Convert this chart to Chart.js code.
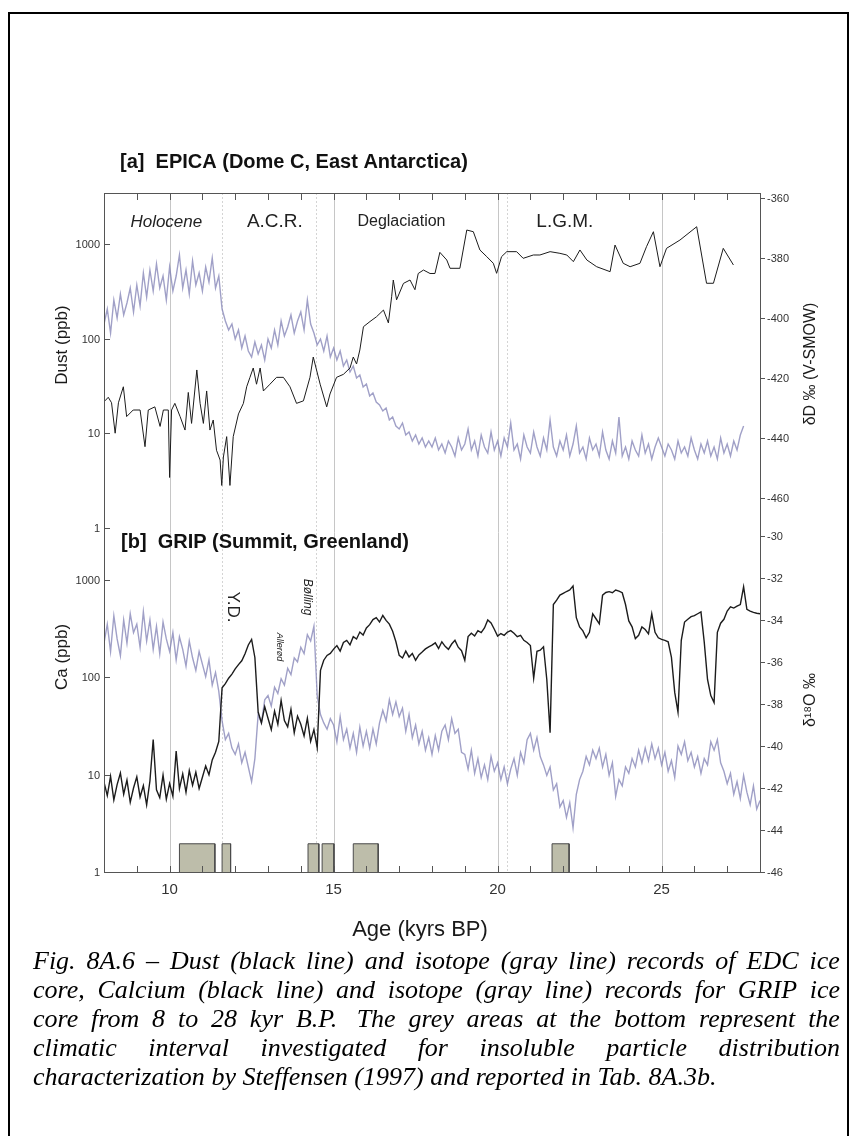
<!DOCTYPE html>
<html>
<head>
<meta charset="utf-8">
<script src="https://cdn.jsdelivr.net/npm/chart.js@4.4.0/dist/chart.umd.min.js"></script>
<style>
  html, body { margin: 0; padding: 0; background: #fff; }
  #page { position: relative; width: 852px; height: 1136px; overflow: hidden; }
  #frame { position: absolute; left: 8px; top: 12px; width: 841px; height: 1150px; border: 2px solid #000; box-sizing: border-box; }
  #chart { position: absolute; left: 0; top: 0; }
  .cap { position: absolute; left: 33px; width: 807px; display: flex; justify-content: space-between;
         white-space: nowrap; font: italic 26px "Liberation Serif", "Times New Roman", serif; color: #000; line-height: 29px; }
  .cap.last { justify-content: flex-start; }
  .cap.last span { margin-right: 0.25em; }
</style>
</head>
<body>
<div id="page">
  <div id="frame"></div>
  <canvas id="chart" width="852" height="1136"></canvas>
  <div id="caption"></div>
</div>
<script>
// --- DATA ---
// regular age grid used by the GRIP records and the EDC isotope record (kyr BP)
const ageGrid = [
  8.0, 8.1, 8.2, 8.3, 8.4, 8.5, 8.6, 8.7, 8.8, 8.9,
  9.0, 9.1, 9.2, 9.3, 9.4, 9.5, 9.6, 9.7, 9.8, 9.9,
  10.0, 10.1, 10.2, 10.3, 10.4, 10.5, 10.6, 10.7, 10.8, 10.9,
  11.0, 11.1, 11.2, 11.3, 11.4, 11.5, 11.6, 11.7, 11.8, 11.9,
  12.0, 12.1, 12.2, 12.3, 12.4, 12.5, 12.6, 12.7, 12.8, 12.9,
  13.0, 13.1, 13.2, 13.3, 13.4, 13.5, 13.6, 13.7, 13.8, 13.9,
  14.0, 14.1, 14.2, 14.3, 14.4, 14.5, 14.6, 14.7, 14.8, 14.9,
  15.0, 15.1, 15.2, 15.3, 15.4, 15.5, 15.6, 15.7, 15.8, 15.9,
  16.0, 16.1, 16.2, 16.3, 16.4, 16.5, 16.6, 16.7, 16.8, 16.9,
  17.0, 17.1, 17.2, 17.3, 17.4, 17.5, 17.6, 17.7, 17.8, 17.9,
  18.0, 18.1, 18.2, 18.3, 18.4, 18.5, 18.6, 18.7, 18.8, 18.9,
  19.0, 19.1, 19.2, 19.3, 19.4, 19.5, 19.6, 19.7, 19.8, 19.9,
  20.0, 20.1, 20.2, 20.3, 20.4, 20.5, 20.6, 20.7, 20.8, 20.9,
  21.0, 21.1, 21.2, 21.3, 21.4, 21.5, 21.6, 21.7, 21.8, 21.9,
  22.0, 22.1, 22.2, 22.3, 22.4, 22.5, 22.6, 22.7, 22.8, 22.9,
  23.0, 23.1, 23.2, 23.3, 23.4, 23.5, 23.6, 23.7, 23.8, 23.9,
  24.0, 24.1, 24.2, 24.3, 24.4, 24.5, 24.6, 24.7, 24.8, 24.9,
  25.0, 25.1, 25.2, 25.3, 25.4, 25.5, 25.6, 25.7, 25.8, 25.9,
  26.0, 26.1, 26.2, 26.3, 26.4, 26.5, 26.6, 26.7, 26.8, 26.9,
  27.0, 27.1, 27.2, 27.3, 27.4, 27.5, 27.6, 27.7, 27.8, 27.9,
  28.0
];

// [a] EDC dust (ppb), black line
const dustAge = [
  8.03, 8.13, 8.23, 8.34, 8.44, 8.59, 8.69, 8.89, 9.10, 9.25, 9.35, 9.55, 9.71, 9.81, 9.96, 10.0,
  10.06, 10.16, 10.32, 10.47, 10.57, 10.67, 10.83, 10.93, 11.03, 11.13, 11.23, 11.33, 11.43, 11.54,
  11.59, 11.64, 11.74, 11.84, 11.94, 12.10, 12.25, 12.35, 12.45, 12.55, 12.65, 12.76, 12.86, 13.06,
  13.26, 13.47, 13.67, 13.87, 14.08, 14.28, 14.38, 14.59, 14.79, 14.89, 15.09, 15.30, 15.50, 15.60,
  15.70, 15.80, 15.91, 16.11, 16.31, 16.52, 16.67, 16.77, 16.82, 16.92, 17.13, 17.33, 17.48, 17.58,
  17.74, 17.94, 18.09, 18.24, 18.45, 18.55, 18.85, 19.06, 19.26, 19.46, 19.67, 19.87, 19.97, 20.12,
  20.28, 20.58, 20.78, 21.09, 21.29, 21.60, 21.90, 22.11, 22.31, 22.51, 22.72, 23.02, 23.43, 23.58,
  23.83, 24.04, 24.34, 24.54, 24.75, 24.95, 25.15, 25.56, 26.07, 26.37, 26.58, 26.88, 27.19
];
const dustPpb = [
  22, 24, 21, 10, 21, 31, 15, 17.6, 17.6, 7.2, 17.6, 19, 11.8, 17.6, 17.6, 3.4,
  17.6, 20.7, 15, 10.8, 27, 12.7, 46.7, 20.7, 12.7, 28, 10.8, 13.8, 6.6, 5.2,
  2.8, 5.6, 9.2, 2.8, 9.2, 16, 20.7, 31, 39, 49, 33, 49, 28, 33,
  39, 39, 31, 20.7, 22, 39, 64, 33, 19, 26, 39, 42, 49, 64,
  54, 76, 134, 152, 171, 201, 147, 278, 418, 258, 385, 418, 330, 490,
  533, 490, 490, 820, 681, 556, 556, 1413, 1356, 869, 738, 628, 492, 738,
  834, 834, 709, 769, 769, 834, 801, 769, 654, 869, 681, 578, 512, 980,
  628, 578, 628, 942, 1356, 578, 904, 1107, 1531, 386, 386, 904, 603
];

// [a] EDC deltaD (permil V-SMOW), gray line, 8.0 - 27.5 kyr on ageGrid
const edcDeltaD = [
  -402, -397, -405, -394, -400, -392, -399, -395, -390, -398,
  -389, -396, -385, -393, -384, -391, -382, -390, -386, -394,
  -383, -391, -386, -379, -390, -384, -392, -381, -389, -385,
  -391, -383, -388, -380, -390, -386, -397, -401, -404, -402,
  -407, -404, -410, -406, -411, -413, -408, -412, -409, -414,
  -407, -410, -404, -409, -401, -406, -403, -399, -405, -401,
  -398, -404, -394, -402, -405, -409, -407, -411, -406, -413,
  -410, -414, -411, -416, -414, -418, -416, -420, -419, -423,
  -422, -426, -425, -428, -429, -431, -430, -434, -433, -436,
  -437, -435, -439, -438, -441, -439, -442, -440, -443, -441,
  -443, -440, -444, -442, -445, -441, -443, -446, -440, -444,
  -442, -437, -444, -441, -446, -439, -443, -445, -438, -444,
  -441, -446, -440, -443, -435, -444, -442, -447, -439, -443,
  -445, -438, -443, -446, -440, -444, -434, -443, -446, -441,
  -444, -439, -446, -442, -436, -445, -443, -447, -440, -444,
  -442, -446, -438, -444, -447, -441, -445, -433, -446, -443,
  -447, -441, -444, -446, -439, -445, -442, -447, -443, -440,
  -443, -446, -442, -444, -447, -441, -445, -443, -446, -440,
  -444, -447, -442, -445, -441, -446, -443, -447, -440, -445,
  -442, -446, -441, -444, -439, -436
];

// [b] GRIP calcium (ppb), black line, on ageGrid
const gripCa = [
  8.4, 6.1, 9.6, 5.5, 7.9, 10.4, 6.3, 8.8, 5.2, 7.3,
  9.5, 5.9, 7.7, 4.9, 8.6, 23.0, 7.0, 5.8, 9.9, 5.6,
  8.1, 6.0, 17.5, 7.2, 10.2, 6.6, 11.0, 7.8, 10.6, 7.2,
  9.4, 12.3, 10.0, 14.2, 17.0, 22.0, 78, 86, 98, 108,
  122, 135, 148, 175, 215, 245, 160, 44, 34, 50,
  38, 29, 45, 33, 58, 36, 31, 47, 27, 40,
  33, 25, 38, 22, 29, 19, 118, 150, 168, 176,
  195, 212, 186, 228, 240, 216, 262, 248, 292, 272,
  322, 348, 392, 410, 370, 432, 385, 352, 298, 232,
  168, 158, 186, 162, 176, 150, 170, 182, 196, 206,
  214, 226, 198, 232, 208, 194, 220, 240, 204, 188,
  150, 262, 284, 266, 302, 288, 322, 388, 362, 312,
  265, 282, 270, 292, 302, 284, 262, 270, 240, 228,
  212, 98, 185, 190, 206, 95, 27, 560, 620, 700,
  730, 762, 792, 870, 410, 330, 300, 255, 290, 450,
  400, 355, 700, 745, 760, 740, 790, 770, 740, 560,
  380, 330, 250, 270, 330, 310, 280, 450, 290, 255,
  245, 240, 232, 160, 70, 44, 240, 370, 395, 420,
  430, 450, 470, 230, 95, 65, 55, 290, 360, 395,
  480, 530, 515, 540, 560, 850, 500, 480, 465, 455,
  450
];

// [b] GRIP delta18O (permil), gray line, on ageGrid
const gripO18 = [
  -35.1, -34.2, -35.5, -33.8, -34.9, -35.7, -34.0, -35.1, -33.7, -34.6,
  -34.2, -35.3, -33.6, -35.0, -34.0, -35.4, -34.3, -35.6, -34.1, -34.9,
  -35.5, -34.6, -35.9, -34.8, -35.4, -36.2, -35.0, -35.8, -36.4, -35.5,
  -36.1, -36.7, -35.9, -37.1, -36.5, -37.4, -38.8, -39.7, -39.4, -40.1,
  -40.4, -39.9, -40.8, -40.3, -41.0, -41.7, -40.6, -38.5, -38.9, -37.8,
  -37.6, -38.1, -37.2, -37.5, -36.8, -37.1, -36.3, -36.6, -35.8, -36.0,
  -35.3, -35.6, -34.7, -35.0, -34.3, -37.6, -38.5, -38.9, -39.2, -38.7,
  -39.0, -39.8, -38.6, -39.7, -39.2, -40.1, -39.4, -40.3, -39.1, -40.0,
  -39.3, -40.1, -39.2, -39.9, -38.9, -38.3, -38.8, -37.8, -38.5, -37.9,
  -38.6, -38.2, -39.3, -38.5, -39.6, -39.0, -39.9, -39.3, -40.2, -39.6,
  -40.4, -39.5, -40.2, -39.3, -39.0, -39.7, -38.7, -39.4, -39.2, -40.3,
  -40.4, -41.1, -40.2, -41.3, -40.6, -41.5, -40.9, -41.6, -40.5, -41.2,
  -40.8, -41.6, -41.0, -41.8, -41.1, -40.6, -41.4, -40.3, -40.8, -39.7,
  -39.4, -40.2, -39.6, -40.5, -40.9, -41.4, -41.0, -42.1, -41.8, -42.9,
  -42.6, -43.4, -42.7, -43.9, -42.3, -41.6, -41.2, -40.5, -40.9, -40.2,
  -40.6, -40.1, -41.0, -40.4, -41.4, -40.8, -42.4, -41.6, -41.9, -41.0,
  -41.3, -40.6, -41.0, -40.2, -40.8, -40.1, -40.7, -39.9, -40.6, -40.1,
  -40.9, -40.3, -41.2, -40.7, -41.5, -40.0, -40.4, -39.8, -40.7, -40.3,
  -41.0, -40.5, -41.3, -40.6, -40.9, -39.8, -40.2, -39.7, -40.8, -41.2,
  -41.8, -41.3, -42.3, -41.7, -42.5, -41.4, -42.2, -42.8, -41.9, -43.0,
  -42.6
];

// grey areas: intervals studied by Steffensen (1997)
const sampleStart = [10.30, 11.60, 14.22, 14.65, 15.60, 21.66];
const sampleEnd = [11.38, 11.86, 14.55, 15.01, 16.36, 22.18];
const sampleTop = 1.95; // ppb on the Ca axis

// ticks
const xTicks = [10, 15, 20, 25];
const dustTicks = [1, 10, 100, 1000];
const caTicks = [1, 10, 100, 1000];
const deltaDTicks = [-360, -380, -400, -420, -440, -460];
const o18Ticks = [-30, -32, -34, -36, -38, -40, -42, -44, -46];
const markerAges = [11.6, 14.45, 20.3];

// period names
const periodNames = ['Holocene', 'A.C.R.', 'Deglaciation', 'L.G.M.'];
const periodAges = [9.9, 13.21, 17.07, 22.05];
const eventNames = ['Y.D.', 'Allerød', 'Bølling'];
const eventAges = [11.93, 13.34, 14.19];

const captionLines = [
  'Fig. 8A.6 – Dust (black line) and isotope (gray line) records of EDC ice',
  'core, Calcium (black line) and isotope (gray line) records for GRIP ice',
  'core from 8 to 28 kyr B.P.\u00a0 The grey areas at the bottom represent the',
  'climatic interval investigated for insoluble particle distribution',
  'characterization by Steffensen (1997) and reported in Tab. 8A.3b.'
];

// --- STYLE ---
const SANS = '"Liberation Sans", Arial, sans-serif';
const GRAY_LINE = 'rgba(128, 128, 180, 0.75)';
const BLACK_LINE = '#1c1c1c';
const periodFonts = ['italic 17px', '19px', '16px', '19px'];
const eventFonts = ['17px', 'italic 9px', 'italic 12px'];
const eventY = [607, 647, 597];

function pts(xs, ys) {
  return ys.map((v, i) => ({ x: xs[i], y: v }));
}

function hLine(ctx, x0, y0, x1, y1) {
  ctx.beginPath(); ctx.moveTo(x0, y0); ctx.lineTo(x1, y1); ctx.stroke();
}

function rotText(ctx, text, x, y, angle, font) {
  ctx.save();
  ctx.translate(x, y);
  ctx.rotate(angle);
  ctx.font = font;
  ctx.textAlign = 'center';
  ctx.textBaseline = 'middle';
  ctx.fillText(text, 0, 0);
  ctx.restore();
}

// --- DECORATION PLUGIN (grid, frame, ticks, labels) ---
const figureDecor = {
  id: 'figureDecor',
  beforeDatasetsDraw(chart) {
    const { ctx, chartArea: a } = chart;
    const x = chart.scales.x;
    ctx.save();
    ctx.lineWidth = 1;
    ctx.strokeStyle = '#c6c6c6';
    xTicks.forEach(v => {
      const px = Math.round(x.getPixelForValue(v)) + 0.5;
      hLine(ctx, px, a.top, px, a.bottom);
    });
    ctx.strokeStyle = '#d4d4d4';
    ctx.setLineDash([2, 2]);
    markerAges.forEach(v => {
      const px = Math.round(x.getPixelForValue(v)) + 0.5;
      hLine(ctx, px, a.top, px, a.bottom);
    });
    ctx.restore();
  },
  afterDatasetsDraw(chart) {
    const { ctx, chartArea: a, scales: s } = chart;
    ctx.save();
    ctx.strokeStyle = '#555';
    ctx.lineWidth = 1;
    ctx.strokeRect(a.left + 0.5, a.top + 0.5, a.right - a.left, a.bottom - a.top);

    // minor x ticks top and bottom
    for (let v = 9; v < 28; v++) {
      const px = Math.round(s.x.getPixelForValue(v)) + 0.5;
      hLine(ctx, px, a.top, px, a.top + 7);
      hLine(ctx, px, a.bottom, px, a.bottom - 6);
    }

    ctx.fillStyle = '#333';
    ctx.font = '15px ' + SANS;
    ctx.textAlign = 'center';
    ctx.textBaseline = 'middle';
    xTicks.forEach(v => ctx.fillText(String(v), s.x.getPixelForValue(v), a.bottom + 18));

    // left log axes
    ctx.font = '11px ' + SANS;
    ctx.textAlign = 'right';
    dustTicks.forEach(v => {
      const py = Math.round(s.yDust.getPixelForValue(v)) + 0.5;
      hLine(ctx, a.left, py, a.left + 6, py);
      ctx.fillText(String(v), a.left - 4, py);
    });
    caTicks.forEach(v => {
      const py = Math.round(s.yCa.getPixelForValue(v)) + 0.5;
      hLine(ctx, a.left, py, a.left + 6, py);
      ctx.fillText(String(v), a.left - 4, py);
    });

    // right isotope axes
    ctx.textAlign = 'left';
    deltaDTicks.forEach(v => {
      const py = Math.round(s.yDD.getPixelForValue(v)) + 0.5;
      hLine(ctx, a.right, py, a.right + 5, py);
      ctx.fillText(String(v), a.right + 7, py);
    });
    o18Ticks.forEach(v => {
      const py = Math.round(s.yO18.getPixelForValue(v)) + 0.5;
      hLine(ctx, a.right, py, a.right + 5, py);
      ctx.fillText(String(v), a.right + 7, py);
    });

    // axis titles
    ctx.fillStyle = '#1a1a1a';
    rotText(ctx, 'Dust (ppb)', 62, 345, -Math.PI / 2, '17px ' + SANS);
    rotText(ctx, 'Ca (ppb)', 62, 657, -Math.PI / 2, '17px ' + SANS);
    rotText(ctx, 'δD ‰ (V-SMOW)', 811, 364, -Math.PI / 2, '16px ' + SANS);
    rotText(ctx, 'δ¹⁸O ‰', 811, 700, -Math.PI / 2, '16px ' + SANS);
    rotText(ctx, 'Age (kyrs BP)', 420, 930, 0, '22px ' + SANS);

    // panel titles
    ctx.fillStyle = '#111';
    ctx.font = 'bold 20px ' + SANS;
    ctx.textAlign = 'left';
    ctx.fillText('[a]  EPICA (Dome C, East Antarctica)', 120, 162);
    ctx.fillText('[b]  GRIP (Summit, Greenland)', 121, 542);

    // periods and events
    ctx.fillStyle = '#222';
    periodNames.forEach((t, i) => {
      rotText(ctx, t, s.x.getPixelForValue(periodAges[i]), 222, 0, periodFonts[i] + ' ' + SANS);
    });
    eventNames.forEach((t, i) => {
      rotText(ctx, t, s.x.getPixelForValue(eventAges[i]), eventY[i], Math.PI / 2, eventFonts[i] + ' ' + SANS);
    });
    ctx.restore();
  }
};

// --- CHART ---
const boxSets = sampleStart.map((x0, i) => ({
  data: [{ x: x0, y: 1 }, { x: x0, y: sampleTop }, { x: sampleEnd[i], y: sampleTop }, { x: sampleEnd[i], y: 1 }],
  yAxisID: 'yCa',
  borderColor: '#4a4a4a',
  borderWidth: 1,
  backgroundColor: '#bdbdaa',
  fill: 'start',
  order: 5
}));

new Chart(document.getElementById('chart'), {
  type: 'line',
  data: {
    datasets: [
      { label: 'EDC dust', data: pts(dustAge, dustPpb), yAxisID: 'yDust', borderColor: BLACK_LINE, borderWidth: 1, order: 1 },
      { label: 'GRIP Ca', data: pts(ageGrid, gripCa), yAxisID: 'yCa', borderColor: BLACK_LINE, borderWidth: 1.4, order: 1 },
      { label: 'EDC dD', data: pts(ageGrid, edcDeltaD), yAxisID: 'yDD', borderColor: GRAY_LINE, borderWidth: 1.4, order: 2 },
      { label: 'GRIP d18O', data: pts(ageGrid, gripO18), yAxisID: 'yO18', borderColor: GRAY_LINE, borderWidth: 1.4, order: 2 },
      ...boxSets
    ]
  },
  options: {
    responsive: false,
    devicePixelRatio: 1,
    animation: false,
    events: [],
    layout: { padding: { left: 104, top: 193, right: 92, bottom: 264 } },
    elements: { point: { radius: 0 }, line: { tension: 0 } },
    plugins: { legend: { display: false }, tooltip: { enabled: false }, title: { display: false } },
    scales: {
      x: { type: 'linear', min: 8, max: 28, bounds: 'data', display: false },
      yDust: { type: 'logarithmic', min: 2.273e-4, max: 3483, bounds: 'data', display: false },
      yDD: { type: 'linear', min: -584.67, max: -358.33, bounds: 'data', display: false },
      yCa: { type: 'logarithmic', min: 1, max: 9.47e6, bounds: 'data', display: false },
      yO18: { type: 'linear', min: -46, max: -13.667, bounds: 'data', display: false }
    }
  },
  plugins: [figureDecor]
});

// --- CAPTION ---
const capBox = document.getElementById('caption');
captionLines.forEach((line, i) => {
  const div = document.createElement('div');
  div.className = 'cap' + (i === captionLines.length - 1 ? ' last' : '');
  div.style.top = (946 + i * 29) + 'px';
  line.split(' ').forEach(w => {
    const sp = document.createElement('span');
    sp.textContent = w;
    div.appendChild(sp);
  });
  capBox.appendChild(div);
});
</script>
</body>
</html>
